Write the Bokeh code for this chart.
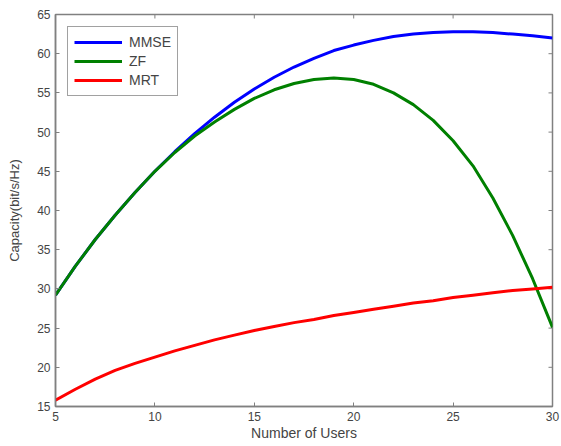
import math
from bokeh.plotting import figure
from bokeh.models import FixedTicker, Range1d, Legend, LegendItem
from bokeh.embed import file_html
from bokeh.resources import INLINE

users = list(range(5, 31))
mmse = [29.2, 32.9, 36.3, 39.4, 42.3, 45.0, 47.5, 49.8, 51.9, 53.8, 55.5, 57.0, 58.3,
        59.4, 60.4, 61.1, 61.7, 62.2, 62.5, 62.7, 62.8, 62.8, 62.7, 62.5, 62.3, 62.0]
zf = [29.2, 32.9, 36.3, 39.4, 42.3, 45.0, 47.4, 49.5, 51.3, 52.9, 54.3, 55.4, 56.2,
      56.7, 56.9, 56.7, 56.1, 55.0, 53.5, 51.5, 48.9, 45.7, 41.6, 36.8, 31.3, 25.1]
mrt = [15.8, 17.2, 18.5, 19.6, 20.5, 21.3, 22.1, 22.8, 23.5, 24.1, 24.7, 25.2, 25.7,
       26.1, 26.6, 27.0, 27.4, 27.8, 28.2, 28.5, 28.9, 29.2, 29.5, 29.8, 30.0, 30.2]
x_ticks = [5, 10, 15, 20, 25, 30]
y_ticks = [15, 20, 25, 30, 35, 40, 45, 50, 55, 60, 65]

FONT = "Liberation Sans"
AX = "#808080"
TXT = "#444444"

x0, x1 = x_ticks[0], x_ticks[-1]
y0, y1 = y_ticks[0], y_ticks[-1]

p = figure(width=561, height=446, output_backend="svg", toolbar_location=None,
           x_range=Range1d(x0, x1), y_range=Range1d(y0, y1),
           min_border_left=55, min_border_right=9, min_border_top=14, min_border_bottom=40)
p.grid.visible = False
p.outline_line_color = AX
p.outline_line_width = 1.5

for ax in (p.xaxis[0], p.yaxis[0]):
    ax.axis_line_color = AX
    ax.axis_line_width = 1.5
    ax.major_tick_line_color = AX
    ax.major_tick_in = 4
    ax.major_tick_out = 0
    ax.minor_tick_line_color = None
    ax.major_label_text_font = FONT
    ax.major_label_text_font_size = "12px"
    ax.major_label_text_color = TXT
    ax.axis_label_text_font = FONT
    ax.axis_label_text_font_style = "normal"
    ax.axis_label_text_color = TXT

p.xaxis.ticker = FixedTicker(ticks=x_ticks)
p.yaxis.ticker = FixedTicker(ticks=y_ticks)
p.xaxis.axis_label = "Number of Users"
p.yaxis.axis_label = "Capacity(bit/s/Hz)"
p.xaxis.axis_label_text_font_size = "14px"
p.yaxis.axis_label_text_font_size = "13px"
p.xaxis.major_label_standoff = 5
p.yaxis.major_label_standoff = 5
p.xaxis.axis_label_standoff = 1
p.yaxis.axis_label_standoff = 12

# inward ticks on the top and right edges of the box
p.scatter(x_ticks, [y1] * len(x_ticks), marker="dash", size=8, angle=math.pi / 2,
          line_color=AX, line_width=1)
p.scatter([x1] * len(y_ticks), y_ticks, marker="dash", size=8,
          line_color=AX, line_width=1)

r1 = p.line(users, mmse, line_color="#0000ff", line_width=3)
r2 = p.line(users, zf, line_color="#008000", line_width=3)
r3 = p.line(users, mrt, line_color="#ff0000", line_width=3)

legend = Legend(items=[LegendItem(label="MMSE", renderers=[r1]),
                       LegendItem(label="ZF", renderers=[r2]),
                       LegendItem(label="MRT", renderers=[r3])],
                location="top_left", margin=12, padding=6, spacing=1,
                glyph_width=48, glyph_height=18, label_height=18, label_standoff=7,
                label_text_font=FONT, label_text_font_size="14px", label_text_color=TXT,
                border_line_color="#444444", border_line_width=1)
p.add_layout(legend)

open("out.html", "w").write(file_html(p, INLINE))
